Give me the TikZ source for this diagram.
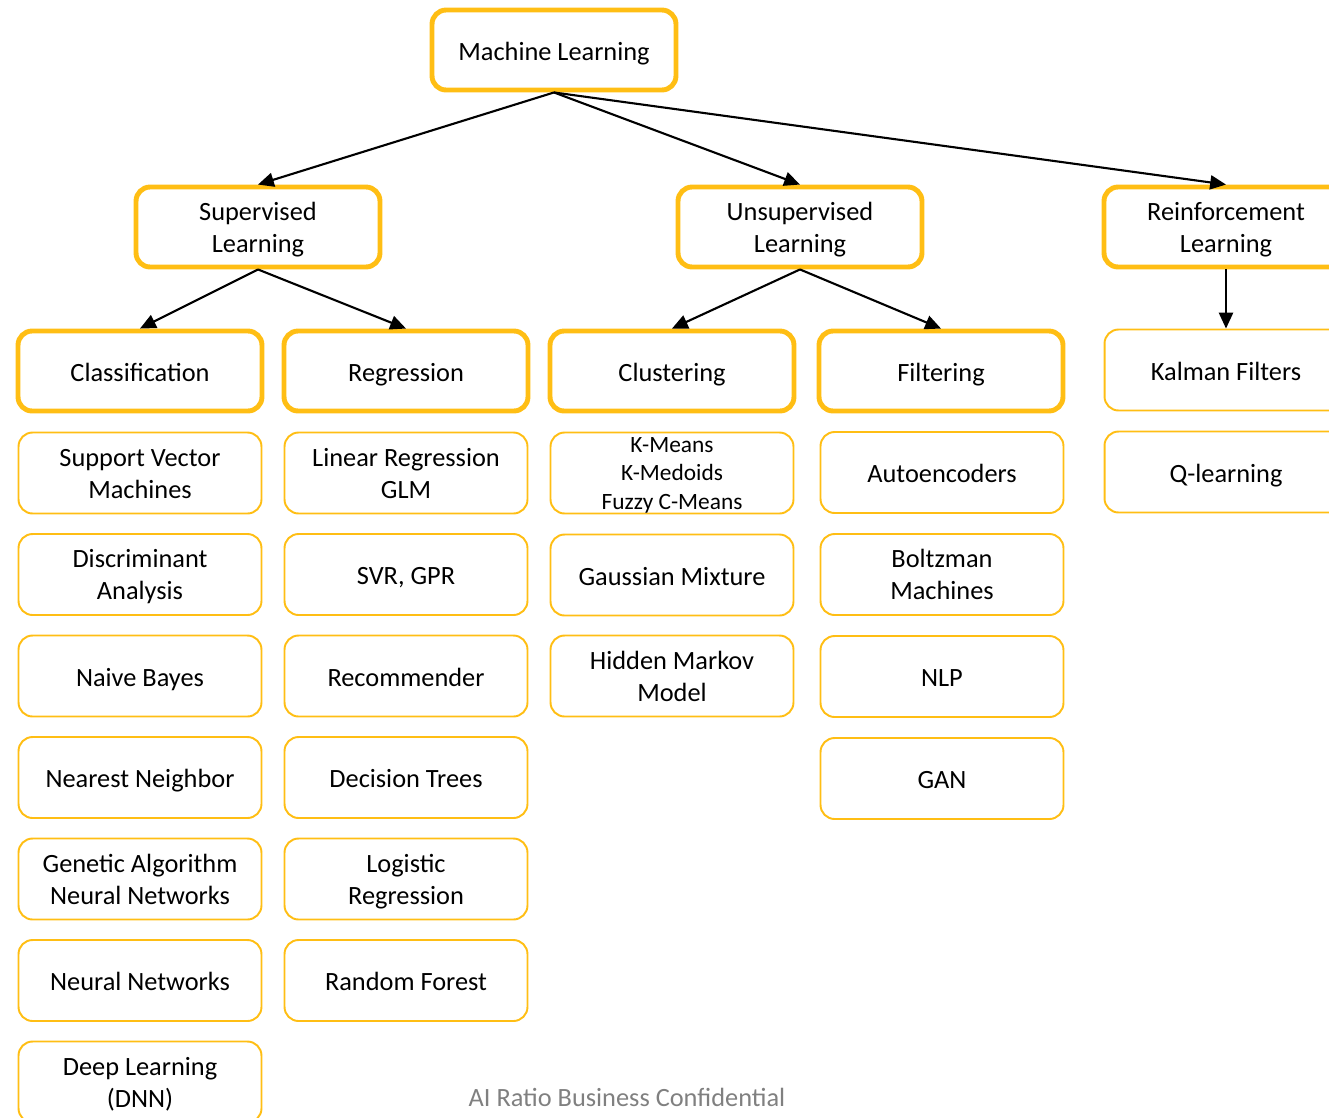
\documentclass[tikz,border=0pt]{standalone}
\usepackage{fontspec}
\setmainfont{Carlito}
\usepackage{tikz}
\usetikzlibrary{arrows.meta}
\definecolor{gold}{RGB}{255,190,20}
\definecolor{footgray}{RGB}{128,128,128}
\tikzstyle{arrow} = [line width=1.2pt, -{Triangle[length=9pt,width=8pt]}]
\newcommand{\topstrut}{\rule{0pt}{15.1pt}}
\newcommand{\botstrut}{\rule[-3.2pt]{0pt}{3.2pt}}
\newcommand{\stack}[2][16pt]{\begin{tabular}{@{}c@{}}\rule{0pt}{#1}#2\end{tabular}}
\newcommand{\single}[1]{#1}

\begin{document}
\begin{tikzpicture}[x=0.02cm, y=-0.02cm,
    headbox/.style={draw=gold, line width=2.8pt, rounded corners=8pt, minimum width=4.88cm, minimum height=1.6cm, inner sep=1pt, align=center, font=\fontsize{15}{18.3}\selectfont, execute at begin node=\topstrut, execute at end node=\botstrut},
    itembox/.style={draw=gold, line width=1.1pt, rounded corners=8pt, minimum width=4.86cm, minimum height=1.62cm, inner sep=1pt, align=center, font=\fontsize{15}{18.3}\selectfont, execute at begin node=\topstrut, execute at end node=\botstrut},
]
\useasboundingbox (0,0) rectangle (1329,1117);
\clip (0,0) rectangle (1329,1117);

% Top levels
\node[headbox] (ml) at (554, 50) {Machine Learning};
\node[headbox] (sup) at (258, 227) {\stack{Supervised\\Learning}};
\node[headbox] (uns) at (800, 227) {\stack{Unsupervised\\Learning}};
\node[headbox] (rein) at (1226, 227) {\stack{Reinforcement\\Learning}};

% Categories
\node[headbox] (cls) at (140, 371) {Classification};
\node[headbox] (reg) at (406, 371) {Regression};
\node[headbox] (clu) at (672, 371) {Clustering};
\node[headbox] (fil) at (941, 371) {Filtering};
\node[itembox] (kal) at (1226, 370) {Kalman Filters};

% Classification methods
\foreach \txt/\kind [count=\i] in {{Support Vector\\Machines}/\stack, {Discriminant\\Analysis}/\stack, Naive Bayes/\single, Nearest Neighbor/\single, {Genetic Algorithm\\Neural Networks}/\stack, Neural Networks/\single, {Deep Learning\\(DNN)}/\stack} {
    \node[itembox] (cls\i) at (140, 371.5+\i*101.5) {\kind{\txt}};
}

% Regression methods
\foreach \txt/\kind [count=\i] in {{Linear Regression\\GLM}/\stack, {SVR, GPR}/\single, Recommender/\single, Decision Trees/\single, {Logistic\\Regression}/\stack, Random Forest/\single} {
    \node[itembox] (reg\i) at (406, 371.5+\i*101.5) {\kind{\txt}};
}

% Clustering methods
\node[itembox, inner ysep=-3pt, font=\fontsize{13.3}{16.2}\selectfont] (clu1) at (672, 473) {\stack[13.6pt]{K-Means\\K-Medoids\\Fuzzy C-Means}};
\node[itembox] (clu2) at (672, 575) {Gaussian Mixture};
\node[itembox] (clu3) at (672, 676) {\stack{Hidden Markov\\Model}};

% Filtering methods
\foreach \txt/\kind [count=\i] in {Autoencoders/\single, {Boltzman\\Machines}/\stack, NLP/\single, GAN/\single} {
    \node[itembox] (fil\i) at (942, 370.5+\i*102) {\kind{\txt}};
}

% Reinforcement methods
\node[itembox] (rl1) at (1226, 472) {Q-learning};

% Arrows
\foreach \a/\b in {ml/sup, ml/uns, ml/rein, sup/cls, sup/reg, uns/clu, uns/fil, rein/kal} {
    \draw[arrow] (\a.south) -- (\b.north);
}

\node[font=\fontsize{15}{18.3}\selectfont, text=footgray] (conf) at (627, 1097) {AI Ratio Business Confidential};

\end{tikzpicture}
\end{document}
